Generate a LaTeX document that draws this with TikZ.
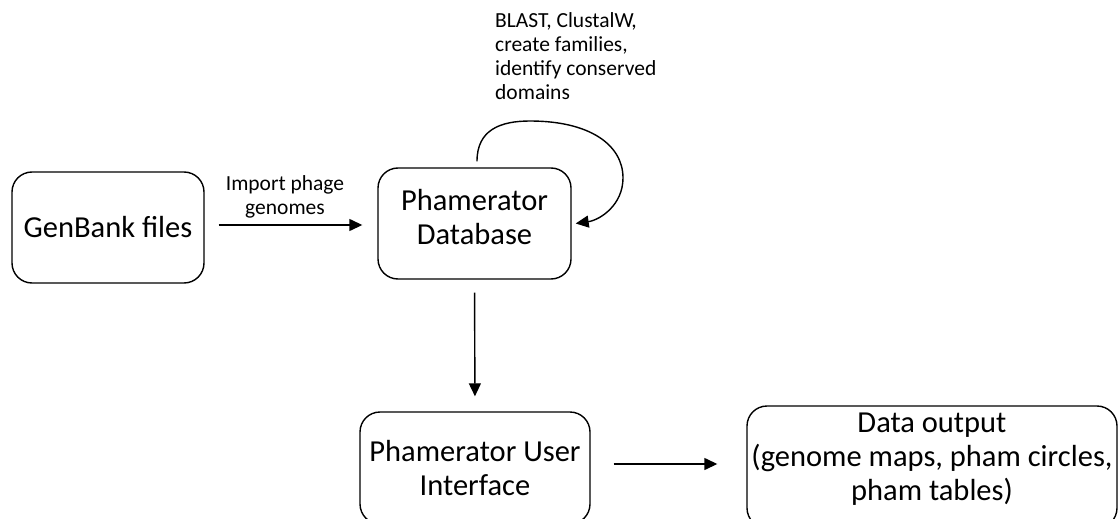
\documentclass[tikz,border=0pt]{standalone}
\usepackage{fontspec}
\setmainfont{Carlito}
\usetikzlibrary{arrows.meta}
\tikzset{
  box/.style={draw, line width=1.4pt, rounded corners=20pt, inner sep=0pt, align=center},
  big/.style={font=\fontsize{30.5}{34}\selectfont, align=center, inner sep=0pt},
  small/.style={font=\fontsize{21.5}{24}\selectfont, inner sep=0pt},
  arr/.style={line width=1.4pt, -{Triangle[length=13pt,width=12pt]}},
}
\begin{document}
\begin{tikzpicture}[x=1pt,y=-1pt]
\clip (0,0) rectangle (1119,519);
\fill[white] (0,0) rectangle (1119,519);
% boxes
\node[box, big, minimum width=192pt, minimum height=111pt] (gb) at (108,227.5) {GenBank files};
\node[box, minimum width=193pt, minimum height=111pt] (db) at (474.5,223.5) {};
\node[big] (dbt) at (474.5,217) {Phamerator\\Database};
\node[box, big, minimum width=230pt, minimum height=112pt] (ui) at (475,468) {Phamerator User\\Interface};
\node[box, minimum width=370pt, minimum height=122pt] (out) at (932,467) {};
\node[big] (outt) at (932,459) {Data output\\(genome maps, pham circles,\\pham tables)};
% labels
\node[small, align=center] (imp) at (285,197) {Import phage\\genomes};
\node[small, align=left, anchor=north west] (blast) at (495,12) {BLAST, ClustalW,\\create families,\\identify conserved\\domains};
% connectors
\coordinate (ay) at (0,225);
\draw[arr, shorten <=14pt, shorten >=15pt] (gb.east |- ay) -- (db.west |- ay);
\draw[arr, shorten <=13pt, shorten >=15pt] (db.south) -- (ui.north);
\coordinate (by) at (0,464);
\draw[arr, shorten <=23pt, shorten >=29pt] (ui.east |- by) -- (out.west |- by);
\draw[arr] ([shift={(2.5,-6)}]db.north) .. controls (477,130) and (500,121) .. (530,121)
  .. controls (590,121) and (623,145) .. (623,178)
  .. controls (623,205) and (600,220) .. ([xshift=4pt]db.east);
\end{tikzpicture}
\end{document}
